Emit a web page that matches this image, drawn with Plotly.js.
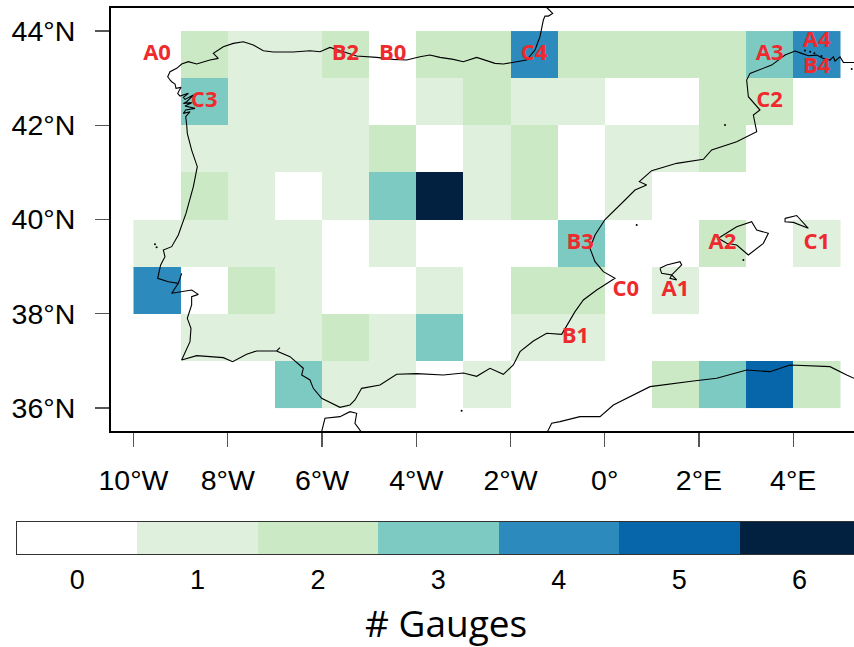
<!DOCTYPE html>
<html>
<head>
<meta charset="utf-8">
<script src="https://cdn.plot.ly/plotly-3.0.1.min.js"></script>
<style>html,body{margin:0;padding:0;background:#fff}#c{width:854px;height:647px}</style>
</head>
<body>
<div id="c"></div>
<script>
// Gauge count per 1-degree cell
var lonEdges = [-10,-9,-8,-7,-6,-5,-4,-3,-2,-1,0,1,2,3,4,5];
var latEdges = [36,37,38,39,40,41,42,43,44];
var row36 = [0,0,0,3,1,1,0,1,0,0,0,2,3,5,2];
var row37 = [0,1,1,1,2,1,3,0,1,1,0,0,0,0,0];
var row38 = [4,0,2,1,0,0,1,0,2,2,0,1,0,0,0];
var row39 = [1,1,1,1,0,1,0,0,0,3,0,0,2,0,1];
var row40 = [0,2,1,0,1,3,6,1,2,0,1,0,0,0,0];
var row41 = [0,1,1,1,1,2,0,1,2,0,1,1,2,0,0];
var row42 = [0,3,1,1,1,0,1,2,1,1,0,0,2,2,0];
var row43 = [0,2,1,1,2,0,2,2,4,2,2,2,2,3,4];

var binColors = ['#ffffff','#dff0dc','#cbe9c5','#7dcac2','#2d8abc','#0766aa','#02203f'];
var gaugeCounts = [0,1,2,3,4,5,6];
var xTickVals = [-10,-8,-6,-4,-2,0,2,4];
var xTickText = ['10°W','8°W','6°W','4°W','2°W','0°','2°E','4°E'];
var yTickVals = [36,38,40,42,44];
var yTickText = ['36°N','38°N','40°N','42°N','44°N'];

// Station labels
var siteNames = ['A0','B2','B0','C4','A3','A4','B4','C3','C2','B3','A2','C1','C0','A1','B1'];
var siteLon = [-9.5,-5.5,-4.5,-1.5,3.5,4.5,4.5,-8.5,3.5,-0.52,2.5,4.5,0.45,1.5,-0.62];
var siteLat = [43.5,43.5,43.5,43.5,43.5,43.77,43.23,42.5,42.5,39.5,39.5,39.5,38.5,38.5,37.5];

// Iberian coast, from the French Atlantic coast round to Provence
var iberiaLon = [-1.2,-1.231,-1.104,-1.196,-1.267,-1.302,-1.373,-1.479,-1.656,-1.797,-1.974,-2.151,-2.328,-2.504,-2.717,-3.0,-3.213,-3.496,-3.708,-3.92,-4.203,-4.486,-4.84,-5.264,-5.547,-5.83,-6.042,-6.255,-6.608,-7.033,-7.245,-7.457,-7.669,-7.882,-8.094,-8.306,-8.2,-8.377,-8.66,-8.836,-8.977,-9.083,-9.225,-9.274,-9.225,-9.19,-9.119,-9.098,-8.991,-9.062,-9.013,-8.836,-8.942,-8.907,-8.73,-8.871,-8.942,-8.765,-8.907,-8.694,-8.892,-8.942,-8.8,-8.892,-8.871,-8.858,-8.766,-8.646,-8.73,-8.886,-9.049,-9.19,-9.367,-9.332,-9.424,-9.487,-9.261,-9.049,-8.978,-9.049,-9.19,-8.943,-8.766,-8.624,-8.766,-8.766,-8.858,-8.78,-8.801,-8.978,-8.66,-8.377,-8.094,-7.896,-7.599,-7.386,-6.962,-6.891,-6.962,-6.679,-6.396,-6.431,-6.254,-6.184,-6.007,-5.618,-5.406,-5.3,-5.158,-4.769,-4.415,-3.991,-3.425,-3.0,-2.717,-2.434,-2.151,-1.939,-1.797,-1.514,-1.231,-0.913,-0.793,-0.63,-0.453,-0.17,0.219,-0.029,-0.205,-0.312,-0.205,0.007,0.431,0.643,0.891,0.735,0.997,1.528,2.094,2.27,2.801,3.226,3.155,3.296,3.049,3.013,3.084,3.544,3.827,4.039,4.181,4.322,4.499,4.64,4.782,4.853,4.888,4.994,5.065,5.277,5.4];
var iberiaLat = [44.6,44.5,44.375,44.318,44.318,44.234,43.88,43.597,43.385,43.363,43.328,43.3,43.314,43.37,43.441,43.349,43.399,43.441,43.491,43.455,43.385,43.399,43.441,43.47,43.562,43.653,43.562,43.583,43.554,43.554,43.583,43.703,43.774,43.738,43.668,43.526,43.42,43.385,43.3,43.35,43.3,43.208,43.137,43.031,42.961,42.925,42.876,42.784,42.805,42.678,42.621,42.678,42.593,42.55,42.642,42.501,42.465,42.48,42.409,42.359,42.324,42.253,42.289,42.182,42.006,41.828,41.474,41.121,40.697,40.13,39.671,39.423,39.352,39.211,39.034,38.751,38.68,38.645,38.857,38.645,38.433,38.482,38.503,38.411,38.362,38.185,37.902,37.69,37.407,37.018,37.11,37.089,37.067,36.982,37.138,37.209,37.209,37.279,37.209,37.089,36.841,36.699,36.593,36.416,36.204,36.013,36.063,36.169,36.416,36.487,36.714,36.728,36.699,36.742,36.671,36.841,36.714,36.912,37.195,37.421,37.584,37.562,37.761,38.044,38.291,38.503,38.751,38.892,39.105,39.388,39.671,40.0,40.414,40.626,40.732,40.803,41.036,41.192,41.277,41.475,41.651,41.864,42.217,42.324,42.607,42.96,43.102,43.278,43.49,43.575,43.526,43.476,43.49,43.42,43.384,43.455,43.363,43.455,43.335,43.335,43.33];

var menorcaLon = [3.827,4.074,4.322,4.004,3.827,3.827];
var menorcaLat = [40.024,40.085,39.812,39.939,39.953,40.024];
var mallorcaLon = [2.412,2.801,3.119,3.226,3.473,3.367,3.049,2.801,2.589,2.412];
var mallorcaLat = [39.6,39.847,39.954,39.777,39.706,39.494,39.246,39.458,39.494,39.6];
var ibizaLon = [1.174,1.316,1.598,1.634,1.422,1.528,1.386,1.422,1.209,1.174];
var ibizaLat = [38.963,39.034,39.105,39.034,38.822,38.716,38.751,38.822,38.857,38.963];
var tangierLon = [-6.05,-6.007,-5.936,-5.618,-5.406,-5.264,-5.3,-5.158,-5.1];
var tangierLat = [35.4,35.497,35.78,35.815,35.921,35.886,35.674,35.497,35.4];
var algeriaLon = [-1.25,-1.196,-1.125,-0.948,-0.524,-0.099,0.184,0.962,1.881,2.377,3.013,3.508,3.933,4.782,5.136,5.291,5.4];
var algeriaLat = [35.45,35.532,35.674,35.709,35.815,35.815,36.063,36.452,36.572,36.629,36.806,36.77,36.912,36.876,36.699,36.629,36.6];
var isletLon = [2.943,0.679,2.553,-9.544,-9.509,-3.036,5.242,4.25,4.36,4.45,4.6];
var isletLat = [39.14,39.883,42.005,39.472,39.409,35.942,43.194,43.59,43.56,43.53,43.47];

function joinSegments(parts){
  var out = [];
  parts.forEach(function(p,i){ if(i) out.push(null); out = out.concat(p); });
  return out;
}
var discreteScale = [];
binColors.forEach(function(c,i){
  discreteScale.push([i/7,c]); discreteScale.push([(i+1)/7,c]);
});

var data = [
  {type:'heatmap', x:lonEdges, y:latEdges, z:[row36,row37,row38,row39,row40,row41,row42,row43],
   zmin:-0.5, zmax:6.5, colorscale:discreteScale, showscale:false, hoverinfo:'skip'},
  {type:'scatter', mode:'lines', hoverinfo:'skip',
   x:joinSegments([iberiaLon,menorcaLon,mallorcaLon,ibizaLon,tangierLon,algeriaLon]),
   y:joinSegments([iberiaLat,menorcaLat,mallorcaLat,ibizaLat,tangierLat,algeriaLat]),
   line:{color:'#000000',width:1.1}},
  {type:'scatter', mode:'markers', hoverinfo:'skip', x:isletLon, y:isletLat,
   marker:{color:'#000000',size:2}},
  {type:'scatter', mode:'text', hoverinfo:'skip', x:siteLon, y:siteLat, text:siteNames,
   textposition:'middle center',
   textfont:{family:'Open Sans',size:22,color:'#ee2a2e',weight:700}},
  {type:'heatmap', xaxis:'x2', yaxis:'y2', x:gaugeCounts, y:[0], z:[gaugeCounts],
   zmin:-0.5, zmax:6.5, colorscale:discreteScale, showscale:false, hoverinfo:'skip'}
];

var tickFont = {family:'Liberation Sans',size:28.5,color:'#000000'};
var layout = {
  width:854, height:647, showlegend:false,
  paper_bgcolor:'#ffffff', plot_bgcolor:'#ffffff',
  margin:{l:0,r:0,t:0,b:0,pad:0},
  xaxis:{domain:[0.1294,1], range:[-10.488,5.291], tickmode:'array', tickvals:xTickVals, ticktext:xTickText,
    showgrid:false, zeroline:false, showline:true, mirror:true, linecolor:'#000000', linewidth:1.5,
    ticks:'outside', ticklen:14, tickwidth:1.2, tickcolor:'#555555', tickfont:tickFont, ticklabelstandoff:9, anchor:'y'},
  yaxis:{domain:[0.3331,0.9884], range:[35.5,44.5], tickmode:'array', tickvals:yTickVals, ticktext:yTickText,
    showgrid:false, zeroline:false, showline:true, linecolor:'#000000', linewidth:1.5,
    ticks:'outside', ticklen:14, tickwidth:1.2, tickcolor:'#555555', tickfont:tickFont, ticklabelstandoff:14, anchor:'x'},
  xaxis2:{domain:[0.0199,1], range:[-0.5,6.452], tickmode:'array', tickvals:gaugeCounts, ticktext:gaugeCounts.map(String),
    showgrid:false, zeroline:false, showline:true, mirror:true, linecolor:'#333333', linewidth:1,
    ticks:'', tickfont:{family:'Liberation Sans',size:27,color:'#000000'}, ticklabelstandoff:2, anchor:'y2'},
  yaxis2:{domain:[0.1437,0.1932], range:[-0.5,0.5], showticklabels:false, ticks:'',
    showgrid:false, zeroline:false, showline:true, linecolor:'#333333', linewidth:1, anchor:'x2'},
  annotations:[{xref:'paper', yref:'paper', x:446/854, y:1-622/647, xanchor:'center', yanchor:'middle',
    text:'# Gauges', showarrow:false, font:{family:'Open Sans',size:37,color:'#000000'}}]
};
Plotly.newPlot('c', data, layout, {staticPlot:true, displayModeBar:false});
</script>
</body>
</html>
